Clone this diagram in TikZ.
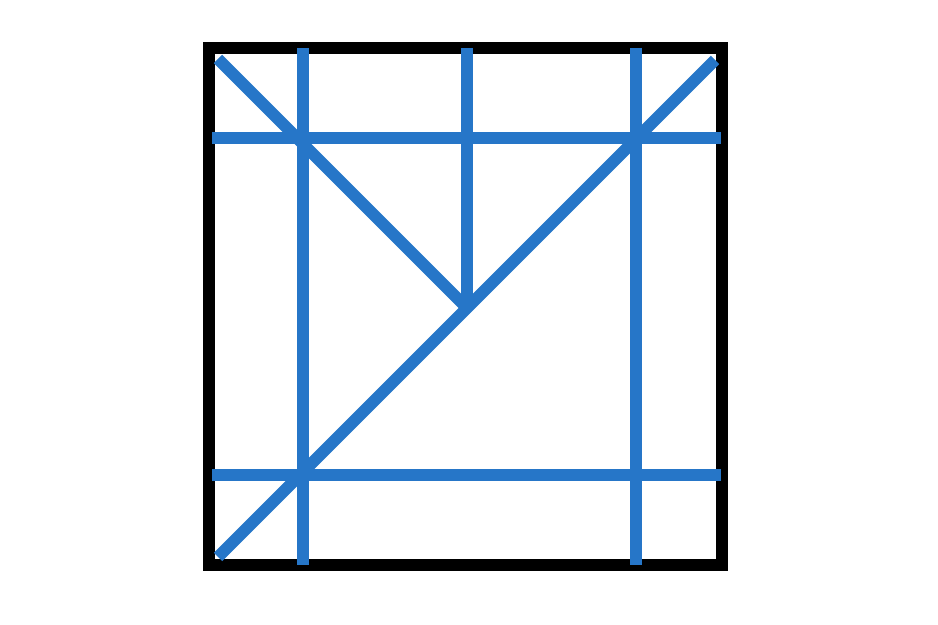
\documentclass[tikz,border=0pt]{standalone}
\usepackage{tikz}
\definecolor{barblue}{RGB}{38,118,200}
\begin{document}
\begin{tikzpicture}[x=0.02cm, y=0.02cm]
	\tikzstyle{frame} = [draw=black, line width=0.24cm, line join=miter]
	\tikzstyle{bar} = [draw=barblue, line width=0.24cm]
\def\xl{209}
\def\xr{722}
\def\yt{577}
\def\yb{60}

\useasboundingbox (0,0) rectangle (938,625);

%frame corners
\coordinate (tl) at (\xl, \yt);
\coordinate (tr) at (\xr, \yt);
\coordinate (br) at (\xr, \yb);
\coordinate (bl) at (\xl, \yb);
\draw[frame] (tl) -- (tr) -- (br) -- (bl) -- cycle;

%vertical bars
\foreach \name/\x in {v_1/303, v_3/636} {
	\coordinate (\name top) at (\x, \yt);
	\coordinate (\name bot) at (\x, \yb);
	\draw[bar] (\name top) -- (\name bot);
}

%horizontal bars
\foreach \name/\y in {h_1/487, h_2/150} {
	\coordinate (\name left) at (212, \y);
	\coordinate (\name right) at (721, \y);
	\draw[bar] (\name left) -- (\name right);
}

%middle bar down to where the diagonals meet
\coordinate (v_2top) at (467, \yt);
\coordinate (meet) at (467, 317);
\draw[bar] (v_2top) -- (meet);

%diagonals
\coordinate (d_1) at (218, 566);
\coordinate (d_2a) at (218, 68);
\coordinate (d_2b) at (715, 565);
\draw[bar] (d_1) -- (meet);
\draw[bar] (d_2a) -- (d_2b);
\end{tikzpicture}
\end{document}
